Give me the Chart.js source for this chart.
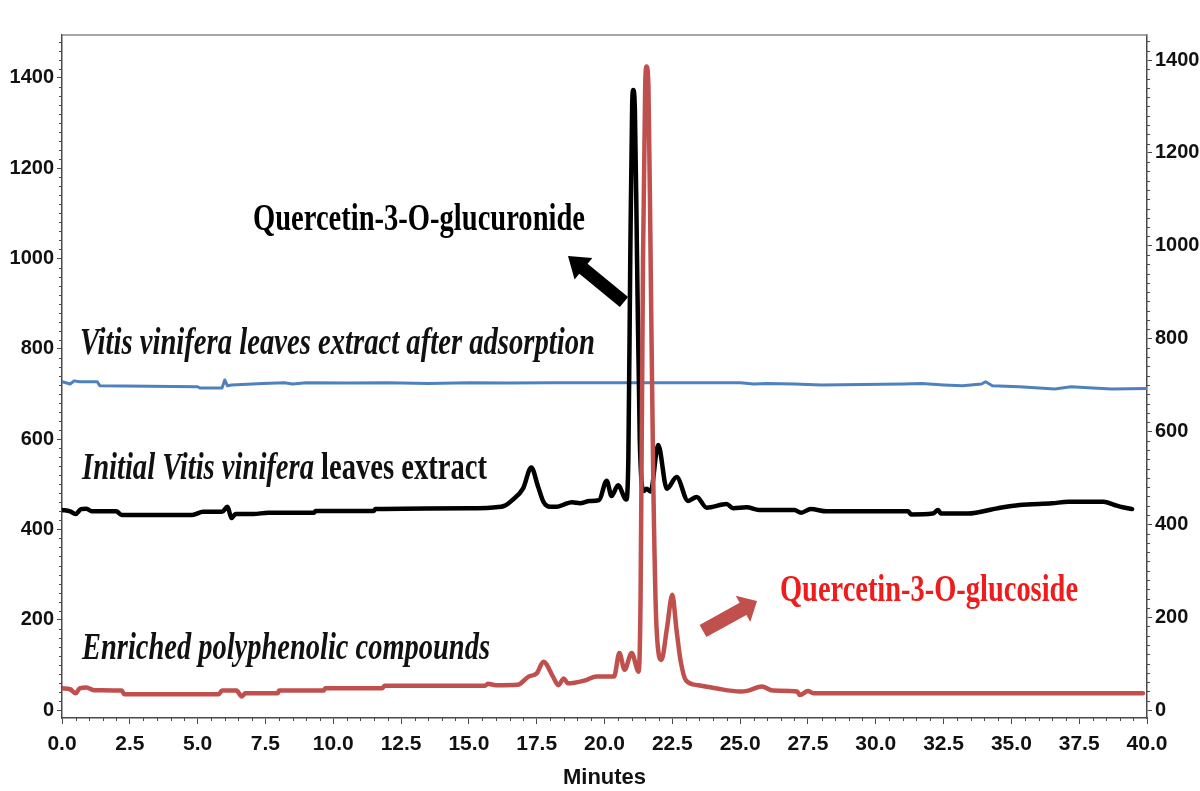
<!DOCTYPE html>
<html><head><meta charset="utf-8">
<script src="https://cdn.jsdelivr.net/npm/chart.js@4.4.1/dist/chart.umd.min.js"></script>
<style>html,body{margin:0;padding:0;background:#fff;}#wrap{width:1200px;height:791px;}</style>
</head><body><div id="wrap"><canvas id="c" width="1200" height="791"></canvas></div>
<script>
// ---- data (minutes, detector signal) ----
const adsorbedMinutes = [0,0.3,0.45,0.65,1.3,1.4,5.0,5.1,5.9,6.0,6.1,6.25,7.4,8.2,8.5,9.0,10.6,12.0,13.5,15.0,16.5,18.0,19.5,25.0,25.5,26.0,27.0,28.0,29.5,31.0,31.7,32.5,33.2,33.9,34.05,34.3,35.3,36.6,37.2,38.0,38.7,40.0];
const adsorbedSignal  = [727,722,729,727,727,718,716,713,713,731,718,720,723,725,722,725,724,725,723,725,724,725,725,725,722,723,722,720,721,722,723,720,718,722,727,718,716,711,716,713,711,712];

const initialMinutes = [0,0.3,0.5,0.7,0.9,1.1,2.0,2.2,4.8,5.2,5.9,6.1,6.25,6.4,7.05,7.6,9.3,9.35,11.5,11.55,15.3,16.0,16.3,16.6,17.0,17.3,17.55,17.75,18.0,18.25,18.5,18.8,19.1,19.45,19.8,20.08,20.26,20.5,20.8,20.88,20.95,21.02,21.06,21.12,21.2,21.3,21.45,21.55,21.7,21.98,22.3,22.66,23.08,23.4,23.77,24.5,24.74,25.24,25.7,27.0,27.25,27.6,28.2,31.2,31.3,32.1,32.3,32.4,33.4,34.5,35.3,36.5,37.1,38.4,38.8,39.1,39.45];
const initialSignal  = [443,440,434,445,446,440,440,432,432,439,439,450,425,434,434,437,437,441,441,445,447,449,452,465,491,537,495,461,450,450,455,460,458,463,465,508,474,498,466,560,1000,1340,1373,1330,1000,600,485,490,484,587,490,516,463,472,448,456,447,449,443,443,437,445,440,440,433,435,443,435,435,447,454,458,461,461,454,449,445];

const enrichedMinutes = [0,0.3,0.5,0.65,0.9,1.17,2.2,2.3,5.77,5.9,6.43,6.63,6.76,7.95,8.0,9.65,9.7,11.8,11.9,15.6,15.7,16.0,16.8,17.2,17.5,17.75,18.1,18.3,18.5,18.65,19.3,19.7,20.35,20.55,20.74,21.0,21.26,21.33,21.42,21.5,21.55,21.62,21.7,21.8,21.92,22.1,22.3,22.5,22.65,22.8,23.0,23.45,24.1,25.0,25.3,25.8,26.2,27.1,27.2,27.5,27.7,39.85];
const enrichedSignal  = [48,46,37,48,50,44,43,35,35,43,43,30,37,37,43,43,48,48,54,54,58,55,56,74,81,107,74,55,70,59,66,74,74,126,89,126,85,250,1000,1380,1425,1380,1000,500,180,111,180,255,180,111,66,55,48,41,43,52,43,41,33,42,37,37];

const xTickValues = [0,2.5,5,7.5,10,12.5,15,17.5,20,22.5,25,27.5,30,32.5,35,37.5,40];
const yTickValues = [0,200,400,600,800,1000,1200,1400];

const seriesNames = ['Vitis vinifera leaves extract after adsorption','Initial Vitis vinifera leaves extract','Enriched polyphenolic compounds'];

function pts(xs, ys){ return xs.map((x,i)=>({x:x,y:ys[i]})); }

const AXIS = '#4a4a4a';
const tickFont = {family:'"Liberation Sans", Arial, sans-serif', weight:'bold', size:20};

function drawArrow(ctx, x1,y1,x2,y2, sw, hw, hl, color){
  const dx=x2-x1, dy=y2-y1, L=Math.hypot(dx,dy), ux=dx/L, uy=dy/L, nx=-uy, ny=ux;
  const bx=x2-ux*hl, by=y2-uy*hl;
  ctx.save(); ctx.fillStyle=color; ctx.beginPath();
  ctx.moveTo(x1+nx*sw/2, y1+ny*sw/2);
  ctx.lineTo(bx+nx*sw/2, by+ny*sw/2);
  ctx.lineTo(bx+nx*hw/2, by+ny*hw/2);
  ctx.lineTo(x2,y2);
  ctx.lineTo(bx-nx*hw/2, by-ny*hw/2);
  ctx.lineTo(bx-nx*sw/2, by-ny*sw/2);
  ctx.lineTo(x1-nx*sw/2, y1-ny*sw/2);
  ctx.closePath(); ctx.fill(); ctx.restore();
}
function drawLabel(ctx, parts, x, baseline, width){
  let total=0;
  parts.forEach(p=>{ctx.font=p.font; p.w=ctx.measureText(p.text).width; total+=p.w;});
  const sx=width/total;
  ctx.save(); ctx.translate(x,baseline); ctx.scale(sx,1); ctx.textBaseline='alphabetic'; ctx.textAlign='left';
  let cx=0;
  parts.forEach(p=>{ctx.font=p.font; ctx.fillStyle=p.color; ctx.fillText(p.text,cx,0); cx+=p.w;});
  ctx.restore();
}

const decor = {
  id:'decor',
  afterDraw(chart){
    const ctx=chart.ctx, a=chart.chartArea, sx=chart.scales.x, sy=chart.scales.y, sy2=chart.scales.y2;
    ctx.save();
    ctx.strokeStyle='#8a8a8a'; ctx.lineWidth=1.5;
    ctx.beginPath(); ctx.moveTo(a.left,a.top); ctx.lineTo(a.right,a.top); ctx.stroke();
    ctx.strokeStyle=AXIS; ctx.lineWidth=1;
    ctx.beginPath();
    for(let m=0.5;m<40;m+=0.5){ if(Math.abs(m/2.5-Math.round(m/2.5))<1e-6) continue; const px=Math.round(sx.getPixelForValue(m))+0.5; ctx.moveTo(px,a.bottom); ctx.lineTo(px,a.bottom+3);} 
    for(let v=20; v<sy.max; v+=20){ if(v%200===0) continue; const py=Math.round(sy.getPixelForValue(v))+0.5; ctx.moveTo(a.left-3,py); ctx.lineTo(a.left,py);} 
    for(let v=20; v<sy2.max; v+=20){ if(v%200===0) continue; const py=Math.round(sy2.getPixelForValue(v))+0.5; ctx.moveTo(a.right,py); ctx.lineTo(a.right+3,py);} 
    ctx.stroke();
    ctx.restore();
    const serifB='bold 37px "Liberation Serif", "Times New Roman", serif';
    const serifBI='italic bold 37px "Liberation Serif", "Times New Roman", serif';
    drawLabel(ctx,[{text:'Quercetin-3-O-glucuronide',font:serifB,color:'#000'}],253,230,332);
    drawLabel(ctx,[{text:seriesNames[0],font:serifBI,color:'#111'}],80,354,515);
    drawLabel(ctx,[{text:'Initial Vitis vinifera',font:serifBI,color:'#111'},{text:' leaves extract',font:serifB,color:'#111'}],82,479,405);
    drawLabel(ctx,[{text:seriesNames[2],font:serifBI,color:'#111'}],82,659,408);
    drawLabel(ctx,[{text:'Quercetin-3-O-glucoside',font:serifB,color:'#ee1c1c'}],780,601,298);
    drawArrow(ctx,624,302,568,256,13,28,20,'#000');
    drawArrow(ctx,703,631,757,601,14,30,16,'#c0504d');
  }
};

new Chart(document.getElementById('c'),{
  type:'line',
  data:{datasets:[
    {label:seriesNames[2], data:pts(enrichedMinutes,enrichedSignal), borderColor:'#c0504d', borderWidth:4.5, order:0, cubicInterpolationMode:'monotone', yAxisID:'y'},
    {label:seriesNames[1], data:pts(initialMinutes,initialSignal), borderColor:'#000000', borderWidth:4.5, order:1, cubicInterpolationMode:'monotone', yAxisID:'y'},
    {label:seriesNames[0], data:pts(adsorbedMinutes,adsorbedSignal), borderColor:'#4f81bd', borderWidth:3, order:2, tension:0, yAxisID:'y'}
  ]},
  options:{
    responsive:false, animation:false, devicePixelRatio:1,
    layout:{padding:{top:35,left:0,right:0,bottom:0}},
    elements:{point:{radius:0}, line:{borderJoinStyle:'round', borderCapStyle:'round', fill:false}},
    plugins:{legend:{display:false}, tooltip:{enabled:false}},
    scales:{
      x:{type:'linear', min:0, max:40,
        afterFit:s=>{s.height=73;},
        afterBuildTicks:s=>{s.ticks=xTickValues.map(v=>({value:v}));},
        ticks:{callback:v=>Number(v).toFixed(1), font:{...tickFont,size:21}, color:'#111', padding:8, maxRotation:0, autoSkip:false},
        grid:{drawOnChartArea:false, drawTicks:true, tickLength:6, tickColor:AXIS, tickWidth:1},
        border:{display:true, color:AXIS, width:1.5},
        title:{display:true, text:'Minutes', font:{...tickFont,size:22}, color:'#111', padding:{top:0,bottom:0}}
      },
      y:{type:'linear', position:'left', min:-17.7, max:1495,
        afterFit:s=>{s.width=62;},
        afterBuildTicks:s=>{s.ticks=yTickValues.map(v=>({value:v}));},
        ticks:{callback:v=>String(v), font:tickFont, color:'#111', padding:3},
        grid:{drawOnChartArea:false, drawTicks:true, tickLength:5, tickColor:AXIS},
        border:{display:true, color:AXIS, width:1.5}
      },
      y2:{type:'linear', position:'right', min:-17.2, max:1454,
        afterFit:s=>{s.width=53;},
        afterBuildTicks:s=>{s.ticks=yTickValues.map(v=>({value:v}));},
        ticks:{callback:v=>String(v), font:tickFont, color:'#111', padding:3},
        grid:{drawOnChartArea:false, drawTicks:true, tickLength:5, tickColor:AXIS},
        border:{display:true, color:AXIS, width:1.5}
      }
    }
  },
  plugins:[decor]
});
</script></body></html>
